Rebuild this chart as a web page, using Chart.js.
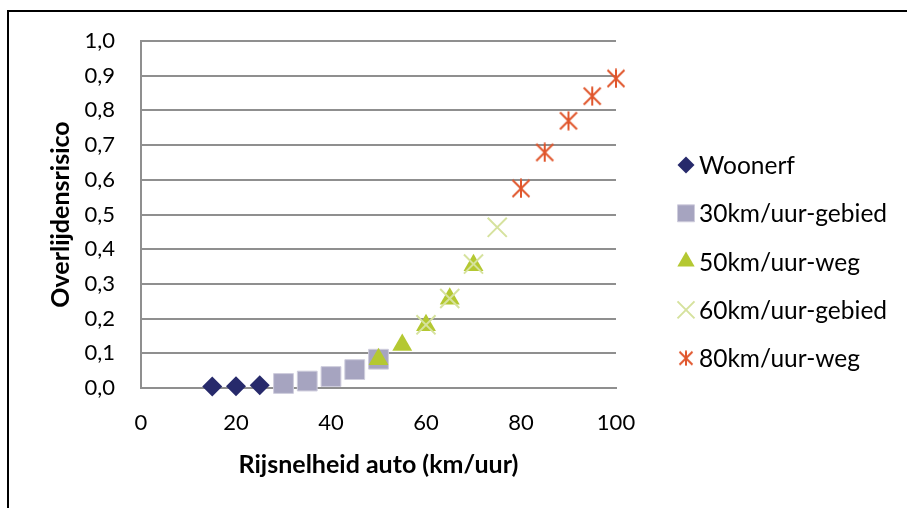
<!DOCTYPE html>
<html lang="nl">
<head>
<meta charset="utf-8">
<title>Overlijdensrisico naar rijsnelheid</title>
<script src="https://cdn.jsdelivr.net/npm/chart.js@4/dist/chart.umd.min.js"></script>
<style>
  html, body { margin: 0; padding: 0; background: #fff; }
  #wrap { position: relative; width: 907px; height: 508px; overflow: hidden; }
  #frame { position: absolute; left: 7px; top: 10px; right: -10px; bottom: -10px;
           border-left: 2px solid #000; border-top: 2px solid #000; pointer-events: none; }
  canvas { position: absolute; left: 0; top: 0; }
</style>
</head>
<body>
<div id="wrap">
  <canvas id="chart" width="907" height="508"></canvas>
  <div id="frame"></div>
</div>
<script>
// Speeds (km/uur) and fatality risk per road type
const seriesNames = ['Woonerf', '30km/uur-gebied', '50km/uur-weg', '60km/uur-gebied', '80km/uur-weg'];

const woonerfSpeed = [15, 20, 25];
const woonerfRisk  = [0.004, 0.005, 0.008];

const zone30Speed = [30, 35, 40, 45, 50];
const zone30Risk  = [0.013, 0.020, 0.033, 0.053, 0.083];

const road50Speed = [50, 55, 60, 65, 70];
const road50Risk  = [0.083, 0.124, 0.181, 0.257, 0.354];

const zone60Speed = [60, 65, 70, 75];
const zone60Risk  = [0.182, 0.258, 0.357, 0.463];

const road80Speed = [80, 85, 90, 95, 100];
const road80Risk  = [0.575, 0.679, 0.770, 0.841, 0.892];

const xTickValues = [0, 20, 40, 60, 80, 100];
const yTickLabels = ['0,0', '0,1', '0,2', '0,3', '0,4', '0,5', '0,6', '0,7', '0,8', '0,9', '1,0'];

const FONT = 'Lato, "Open Sans", sans-serif';

function toPoints(xs, ys) {
  return xs.map((x, i) => ({ x: x, y: ys[i] }));
}

// Six-armed asterisk marker (X with a vertical bar)
function makeAsterisk(size, color, lw) {
  const c = document.createElement('canvas');
  c.width = size; c.height = size;
  const g = c.getContext('2d');
  g.strokeStyle = color;
  g.lineWidth = lw;
  const m = lw / 2 + 0.5;
  g.beginPath();
  g.moveTo(m, m); g.lineTo(size - m, size - m);
  g.moveTo(size - m, m); g.lineTo(m, size - m);
  g.moveTo(size / 2, 0.5); g.lineTo(size / 2, size - 0.5);
  g.stroke();
  return c;
}

const orange = '#e0552b';
const asteriskBig = makeAsterisk(20, orange, 2);
const asteriskSmall = makeAsterisk(16, orange, 2);

const datasets = [
  { label: seriesNames[0], data: toPoints(woonerfSpeed, woonerfRisk),
    pointStyle: 'rectRot', pointRadius: 10, backgroundColor: '#272a6b', borderColor: '#272a6b',
    borderWidth: 0, order: 5, clip: false, legendRadius: 8.5 },
  { label: seriesNames[1], data: toPoints(zone30Speed, zone30Risk),
    pointStyle: 'rect', pointRadius: 14, backgroundColor: '#a6a4c0', borderColor: '#cfcddd',
    borderWidth: 1, order: 4, clip: false, legendRadius: 12 },
  { label: seriesNames[2], data: toPoints(road50Speed, road50Risk),
    pointStyle: 'triangle', pointRadius: 11.5, backgroundColor: '#b4c832', borderColor: '#b4c832',
    borderWidth: 0, order: 3, clip: false, legendRadius: 10 },
  { label: seriesNames[3], data: toPoints(zone60Speed, zone60Risk),
    pointStyle: 'crossRot', pointRadius: 13.5, backgroundColor: '#d6e29e', borderColor: '#d6e29e',
    borderWidth: 2, order: 2, clip: false, legendRadius: 12 },
  { label: seriesNames[4], data: toPoints(road80Speed, road80Risk),
    pointStyle: asteriskBig, pointRadius: 10, backgroundColor: orange, borderColor: orange,
    borderWidth: 2, order: 1, clip: false, legendStyle: asteriskSmall, legendRadius: 8 }
];

// Legend at the right of the plot, one marker + label per series
const sideLegend = {
  id: 'sideLegend',
  afterDraw(chart) {
    const ctx = chart.ctx;
    const markerX = 686, textX = 699, firstY = 165, step = 48.3;
    chart.data.datasets.forEach((ds, i) => {
      const y = firstY + i * step;
      ctx.save();
      ctx.fillStyle = ds.backgroundColor;
      ctx.strokeStyle = ds.borderColor;
      ctx.lineWidth = ds.borderWidth;
      const style = ds.legendStyle || ds.pointStyle;
      Chart.helpers.drawPoint(ctx, {
        pointStyle: style, radius: ds.legendRadius, rotation: 0, borderWidth: ds.borderWidth
      }, markerX, y);
      ctx.restore();
      ctx.save();
      ctx.fillStyle = '#000';
      ctx.font = '24.5px ' + FONT;
      ctx.textAlign = 'left';
      ctx.textBaseline = 'middle';
      ctx.fillText(ds.label, textX, y + 1);
      ctx.restore();
    });
  }
};

new Chart(document.getElementById('chart'), {
  type: 'scatter',
  data: { datasets: datasets },
  plugins: [sideLegend],
  options: {
    responsive: false,
    animation: false,
    events: [],
    layout: { padding: { left: 46, right: 291, top: 41, bottom: 28 } },
    plugins: { legend: { display: false }, tooltip: { enabled: false } },
    scales: {
      x: {
        type: 'linear', min: 0, max: 100,
        afterBuildTicks: (scale) => { scale.ticks = xTickValues.map(v => ({ value: v })); },
        afterFit: (scale) => { scale.height = 92; },
        grid: { display: false, drawTicks: false },
        border: { display: true, color: '#8f8f8f', width: 2 },
        ticks: { padding: 22, color: '#000', font: { family: FONT, size: 22 } },
        title: { display: true, text: 'Rijsnelheid auto (km/uur)', color: '#000', padding: 0,
                 font: { family: FONT, size: 25, weight: 'bold' } }
      },
      y: {
        type: 'linear', min: 0, max: 1,
        ticks: { stepSize: 0.1, padding: 26, color: '#000', font: { family: FONT, size: 22 },
                 callback: (v, i) => yTickLabels[i] },
        afterFit: (scale) => { scale.width = 95; },
        grid: { color: '#8f8f8f', lineWidth: 2, drawTicks: false },
        border: { display: true, color: '#8f8f8f', width: 2 },
        title: { display: true, text: 'Overlijdensrisico', color: '#000', padding: 0,
                 font: { family: FONT, size: 25, weight: 'bold' } }
      }
    }
  }
});
</script>
</body>
</html>
